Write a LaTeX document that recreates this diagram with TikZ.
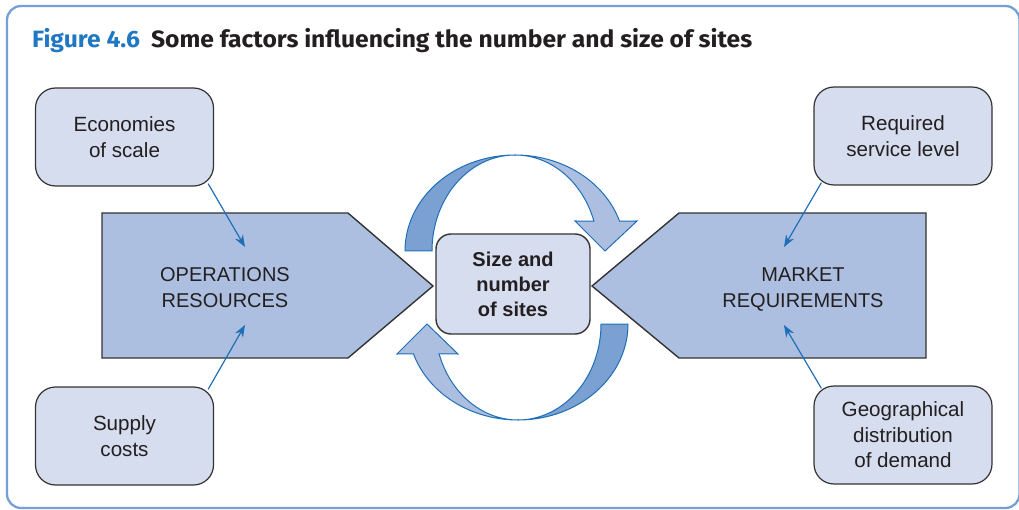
\documentclass[tikz,border=0pt]{standalone}
\usepackage{fontspec}
\setmainfont{Liberation Sans}
\newfontfamily\titlefont{Fira Sans}
\usetikzlibrary{arrows.meta,calc}
\definecolor{frameblue}{HTML}{74A0D8}
\definecolor{figblue}{HTML}{1F78C1}
\definecolor{titleblack}{HTML}{231F20}
\definecolor{boxfill}{HTML}{D5DDEF}
\definecolor{pentfill}{HTML}{ADBFE0}
\definecolor{darkarc}{HTML}{7BA0D2}
\definecolor{lightarc}{HTML}{ADBFE0}
\definecolor{edgeblue}{HTML}{1F6FB8}
\definecolor{linegray}{HTML}{333333}
\definecolor{textgray}{HTML}{231F20}
\begin{document}
\begin{tikzpicture}[x=1pt,y=-1pt,
  factor/.style={draw=linegray, line width=1.2pt, fill=boxfill, rounded corners=20pt,
    minimum width=178pt, minimum height=98pt, align=center, inner sep=0pt,
    text=textgray, font=\fontsize{20.6}{25.5}\selectfont},
  centrebox/.style={draw=linegray, line width=1.4pt, fill=boxfill, rounded corners=15pt,
    minimum width=154pt, minimum height=100pt, align=center, inner sep=0pt,
    text=textgray, font=\fontsize{20}{25}\selectfont\bfseries},
  pent/.style={draw=linegray, line width=1.4pt, fill=pentfill},
  bigtext/.style={align=center, inner sep=0pt, text=textgray, text depth=5pt,
    font=\fontsize{20}{26}\selectfont},
  darkpart/.style={fill=darkarc, draw=edgeblue, line width=1pt},
  lightpart/.style={fill=lightarc, draw=edgeblue, line width=1pt},
  conn/.style={draw=edgeblue, line width=1.2pt, -{Stealth[length=12pt,width=9pt]}}]
\useasboundingbox (0,0) rectangle (1019,510);
% frame
\draw[frameblue, line width=2.3pt, rounded corners=14pt] (7,6) rectangle (1019.5,508);
% title
\node[anchor=base west, inner sep=0pt] (title) at (32,48)
  {\resizebox{720pt}{\height}{\titlefont\bfseries\fontsize{23.6}{28}\selectfont\color{figblue}Figure 4.6\hspace{0.45em}\color{titleblack}Some factors influencing the number and size of sites}};
% pentagons
\draw[pent] (102,213) -- (348,213) -- (433,286) -- (348,358) -- (102,358) -- cycle;
\draw[pent] (926,213) -- (679,213) -- (592,286) -- (679,358) -- (926,358) -- cycle;
\node[bigtext] (ops) at (225,290.5) {OPERATIONS\\RESOURCES};
\node[bigtext] (mkt) at (803,290.5) {MARKET\\REQUIREMENTS};
% curved arrows (top)
\filldraw[darkpart] plot[domain=180:90, samples=40] ({515+110*cos(\x)},{251-96*sin(\x)})
  -- plot[domain=90:180, samples=40] ({515+83*cos(\x)},{251-96*sin(\x)}) -- cycle;
\filldraw[lightpart] plot[domain=90:18.2, samples=40] ({515+110*cos(\x)},{251-96*sin(\x)})
  -- (637,221) -- (605,251) -- (575,221)
  -- plot[domain=18.2:90, samples=40] ({515+83*cos(\x)},{251-96*sin(\x)}) -- cycle;
% curved arrows (bottom)
\filldraw[darkpart] plot[domain=180:90, samples=40] ({518-110*cos(\x)},{324+96*sin(\x)})
  -- plot[domain=90:180, samples=40] ({518-83*cos(\x)},{324+96*sin(\x)}) -- cycle;
\filldraw[lightpart] plot[domain=90:18.2, samples=40] ({518-110*cos(\x)},{324+96*sin(\x)})
  -- (397,354) -- (427,324) -- (458,354)
  -- plot[domain=18.2:90, samples=40] ({518-83*cos(\x)},{324+96*sin(\x)}) -- cycle;
% factor boxes
\node[factor] (econ) at (124.5,137) {Economies\\of scale};
\node[factor] (supply) at (124.5,436) {Supply\\costs};
\node[factor] (service) at (903,136) {Required\\service level};
\node[factor] (geo) at (903,435) {Geographical\\distribution\\of demand};
% targets
\coordinate (tA) at (245,247);
\coordinate (tB) at (245,325);
\coordinate (tC) at (784,247);
\coordinate (tD) at (784,325);
\draw[conn] ($(econ.south east)+(-6,-3)$) -- (tA);
\draw[conn] ($(supply.north east)+(-6,3)$) -- (tB);
\draw[conn] ($(service.south west)+(8,-3)$) -- (tC);
\draw[conn] ($(geo.north west)+(8,3)$) -- (tD);
% centre
\node[centrebox] (size) at (513,284) {Size and\\number\\of sites};
\end{tikzpicture}
\end{document}
